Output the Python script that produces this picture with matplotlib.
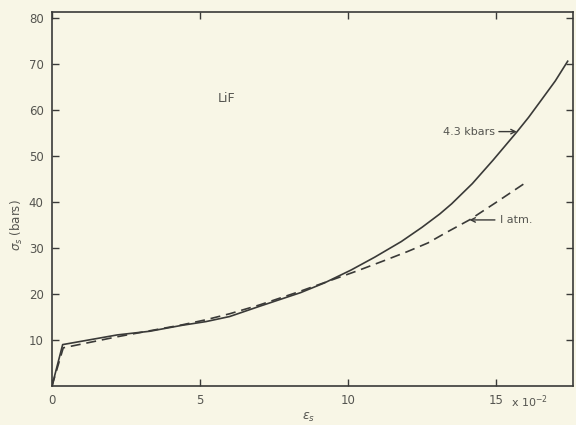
import matplotlib.pyplot as plt
import matplotlib.transforms as mtransforms

# strain (x 10^-2) and stress (bars)
eps_43kbar = [0, 0.36, 2.2, 3.3, 4.4, 5.2, 6.0, 7.0, 8.4, 9.2, 10.1, 10.9, 11.8,
              12.5, 13.1, 13.5, 14.2, 14.9, 15.7, 16.1, 16.5, 17.0, 17.42]
sig_43kbar = [0, 9.0, 11.1, 11.9, 13.2, 14.0, 15.1, 17.3, 20.3, 22.4, 25.2, 28.0, 31.4,
              34.5, 37.4, 39.6, 44.0, 49.1, 55.2, 58.4, 61.9, 66.3, 70.6]

eps_1atm = [0, 0.38, 2.2, 3.3, 4.4, 5.2, 6.0, 7.0, 8.3, 9.3, 10.3, 11.2, 12.0,
            12.7, 13.3, 14.1, 15.0, 16.0]
sig_1atm = [0, 8.3, 10.7, 12.0, 13.3, 14.4, 15.7, 17.6, 20.4, 22.7, 25.0, 27.2, 29.2,
            31.1, 33.3, 36.1, 39.9, 44.2]

xticks = [0, 5, 10, 15]
xticklabels = ["0", "5", "10", "15"]
yticks = [10, 20, 30, 40, 50, 60, 70, 80]

bg = "#f8f6e6"
ink = "#3a3a38"
txt = "#555550"

fig = plt.figure(figsize=(5.76, 4.25), dpi=100, facecolor=bg)
ax = fig.add_axes([52 / 576, 1 - 386 / 425, 521 / 576, 374 / 425])
ax.set_facecolor(bg)

ax.plot(eps_43kbar, sig_43kbar, c=ink, lw=1.2)
ax.plot(eps_1atm, sig_1atm, c=ink, lw=1.2, ls=(0, (6, 3.5)))

ax.set_xlim(0, 17.6)
ax.set_ylim(0, 81.3)
ax.set_xticks(xticks)
ax.set_xticklabels(xticklabels)
ax.set_yticks(yticks)
ax.tick_params(direction="in", length=5, width=1, colors=ink, labelcolor=txt,
               labelsize=8.5, top=True, right=True, pad=6)
for s in ax.spines.values():
    s.set_color(ink)
    s.set_linewidth(1.2)

# "x 10^-2" next to the last tick label
trans = mtransforms.blended_transform_factory(ax.transData, ax.transAxes)
ax.text(15.5, -0.019, "x 10$^{-2}$", transform=trans, ha="left", va="top",
        fontsize=8, color=txt)

ax.text(0.48, -0.083, "$\\epsilon_s$", transform=ax.transAxes, ha="left", va="center",
        fontsize=9, color=txt)
ax.text(-0.067, 0.43, "$\\sigma_s$ (bars)", transform=ax.transAxes, rotation=90,
        ha="center", va="center", fontsize=8.5, color=txt)

ax.text(5.6, 62.5, "LiF", fontsize=9, color=txt, va="center")

ax.annotate("4.3 kbars", xy=(15.7, 55.3), xytext=(13.2, 55.3), fontsize=8,
            color=txt, va="center",
            arrowprops=dict(arrowstyle="->", color=ink, lw=1, shrinkA=1, shrinkB=0))
ax.annotate("I atm.", xy=(14.1, 36.1), xytext=(15.15, 36.1), fontsize=8,
            color=txt, va="center",
            arrowprops=dict(arrowstyle="->", color=ink, lw=1, shrinkA=2, shrinkB=0))

fig.savefig("out.png", dpi=100, facecolor=bg)
